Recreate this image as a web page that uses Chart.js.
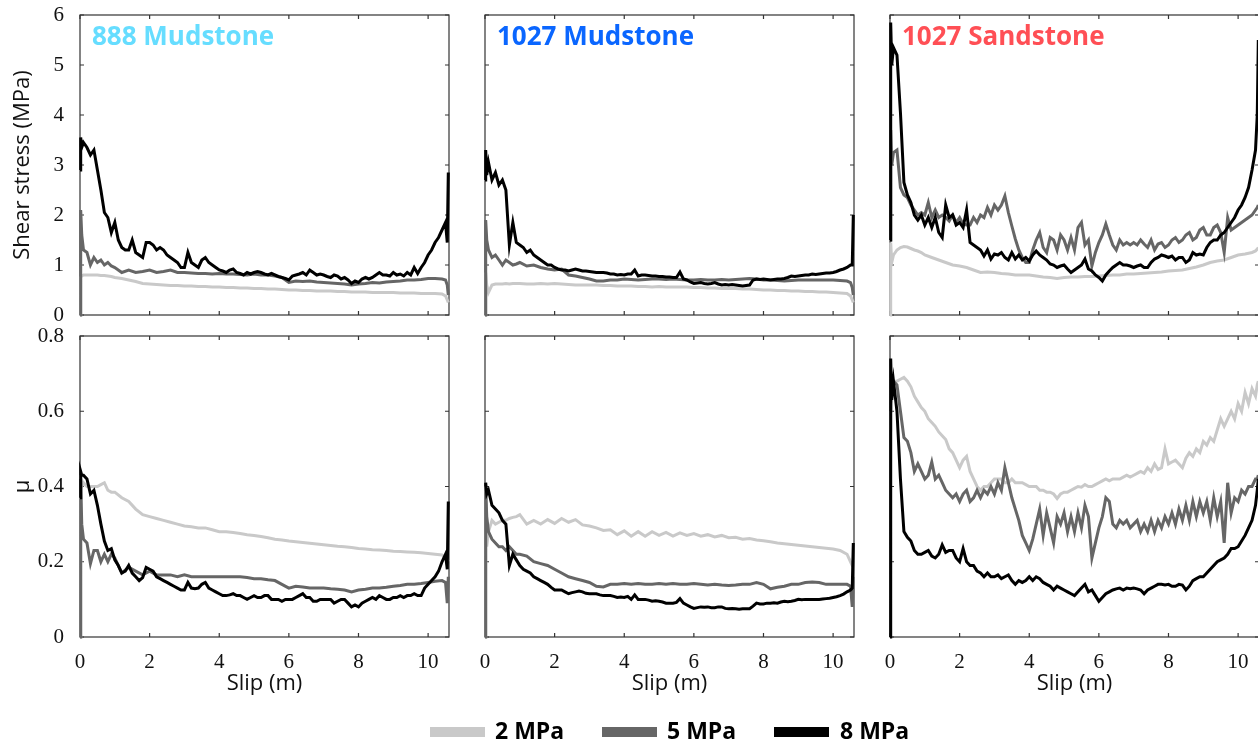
<!DOCTYPE html>
<html>
<head>
<meta charset="utf-8">
<script src="https://cdn.jsdelivr.net/npm/chart.js@4.4.1/dist/chart.umd.min.js"></script>
<style>
  html, body { margin: 0; padding: 0; background: #fff; }
  #fig { position: relative; width: 1258px; height: 747px; overflow: hidden; }
  #fig canvas { position: absolute; left: 0; top: 0; }
</style>
</head>
<body>
<div id="fig">
  <canvas id="p1" width="1262" height="747"></canvas>
  <canvas id="p2" width="1262" height="747"></canvas>
  <canvas id="p3" width="1262" height="747"></canvas>
  <canvas id="p4" width="1262" height="747"></canvas>
  <canvas id="p5" width="1262" height="747"></canvas>
  <canvas id="p6" width="1262" height="747"></canvas>
</div>

<script>
// slip positions (m) - fine grid for the noisy curves, coarse grid for the smooth ones
const SLIP_FINE = [0, 0.02, 0.05,
  0.1, 0.2, 0.3, 0.4, 0.5, 0.6, 0.7, 0.8, 0.9, 1.0,
  1.1, 1.2, 1.3, 1.4, 1.5, 1.6, 1.7, 1.8, 1.9, 2.0,
  2.1, 2.2, 2.3, 2.4, 2.5, 2.6, 2.7, 2.8, 2.9, 3.0,
  3.1, 3.2, 3.3, 3.4, 3.5, 3.6, 3.7, 3.8, 3.9, 4.0,
  4.1, 4.2, 4.3, 4.4, 4.5, 4.6, 4.7, 4.8, 4.9, 5.0,
  5.1, 5.2, 5.3, 5.4, 5.5, 5.6, 5.7, 5.8, 5.9, 6.0,
  6.1, 6.2, 6.3, 6.4, 6.5, 6.6, 6.7, 6.8, 6.9, 7.0,
  7.1, 7.2, 7.3, 7.4, 7.5, 7.6, 7.7, 7.8, 7.9, 8.0,
  8.1, 8.2, 8.3, 8.4, 8.5, 8.6, 8.7, 8.8, 8.9, 9.0,
  9.1, 9.2, 9.3, 9.4, 9.5, 9.6, 9.7, 9.8, 9.9, 10.0,
  10.1, 10.2, 10.3, 10.4, 10.5,
  10.55, 10.58];

const SLIP_COARSE = [0, 0.02, 0.05,
  0.1, 0.2, 0.3, 0.4, 0.5, 0.6, 0.7, 0.8, 0.9, 1.0,
  1.2, 1.4, 1.6, 1.8, 2.0, 2.2, 2.4, 2.6, 2.8, 3.0,
  3.2, 3.4, 3.6, 3.8, 4.0, 4.2, 4.4, 4.6, 4.8, 5.0,
  5.2, 5.4, 5.6, 5.8, 6.0, 6.2, 6.4, 6.6, 6.8, 7.0,
  7.2, 7.4, 7.6, 7.8, 8.0, 8.2, 8.4, 8.6, 8.8, 9.0,
  9.2, 9.4, 9.6, 9.8, 10.0, 10.2, 10.4,
  10.5, 10.55, 10.58];

const SLIP_TICKS = [0, 2, 4, 6, 8, 10];
const STRESS_TICKS = [0, 1, 2, 3, 4, 5, 6];
const MU_TICKS = [0, 0.2, 0.4, 0.6, 0.8];

const PANEL_TITLES = ['888 Mudstone', '1027 Mudstone', '1027 Sandstone'];
const TITLE_COLORS = ['#66ddff', '#0a66ff', '#ff4f55'];
const PRESSURES = ['2 MPa', '5 MPa', '8 MPa'];
const LINE_COLORS = ['#c9c9c9', '#666666', '#000000'];

// ---- shear stress (MPa) ----
const TAU_888_2 = [0, 0.75, 0.78,
  0.8, 0.8, 0.8, 0.8, 0.8, 0.79, 0.79, 0.78, 0.77, 0.75,
  0.73, 0.7, 0.67, 0.63, 0.62, 0.61, 0.6, 0.59, 0.59, 0.58,
  0.58, 0.57, 0.57, 0.56, 0.56, 0.55, 0.55, 0.54, 0.54, 0.53,
  0.53, 0.52, 0.52, 0.51, 0.5, 0.5, 0.49, 0.49, 0.48, 0.48,
  0.48, 0.47, 0.47, 0.46, 0.46, 0.46, 0.45, 0.45, 0.45, 0.45,
  0.44, 0.44, 0.44, 0.43, 0.43, 0.43, 0.42,
  0.38, 0.3, 0.25];
const TAU_888_5 = [0, 2.1, 1.6,
  1.3, 1.25, 1.0, 1.15, 1.05, 1.1, 1.0, 1.05, 0.98, 0.95,
  0.85, 0.9, 0.85, 0.87, 0.9, 0.85, 0.87, 0.9, 0.85, 0.85,
  0.84, 0.83, 0.83, 0.82, 0.83, 0.82, 0.82, 0.81, 0.8, 0.82,
  0.8, 0.8, 0.78, 0.75, 0.65, 0.68, 0.67, 0.68, 0.66, 0.65,
  0.64, 0.63, 0.62, 0.6, 0.62, 0.63, 0.65, 0.64, 0.66, 0.67,
  0.68, 0.7, 0.7, 0.71, 0.73, 0.73, 0.72,
  0.7, 0.6, 0.4];
const TAU_888_8 = [2.9, 3.55, 3.35,
  3.45, 3.35, 3.2, 3.3, 2.9, 2.5, 2.05, 1.95, 1.65, 1.85,
  1.5, 1.35, 1.3, 1.3, 1.5, 1.25, 1.2, 1.15, 1.45, 1.45,
  1.4, 1.3, 1.35, 1.3, 1.2, 1.15, 1.1, 1.05, 0.95, 0.95,
  1.25, 1.05, 1.0, 0.95, 1.1, 1.15, 1.05, 1.0, 0.95, 0.9,
  0.88, 0.85, 0.9, 0.92, 0.85, 0.83, 0.8, 0.85, 0.82, 0.85,
  0.87, 0.85, 0.82, 0.8, 0.83, 0.8, 0.77, 0.75, 0.73, 0.7,
  0.78, 0.8, 0.82, 0.85, 0.8, 0.9, 0.85, 0.8, 0.82, 0.8,
  0.77, 0.75, 0.8, 0.78, 0.72, 0.75, 0.7, 0.63, 0.68, 0.65,
  0.72, 0.75, 0.72, 0.75, 0.8, 0.85, 0.8, 0.8, 0.78, 0.85,
  0.8, 0.82, 0.78, 0.85, 0.8, 0.95, 0.83, 0.95, 1.05, 1.2,
  1.3, 1.45, 1.55, 1.7, 1.85,
  1.45, 2.85];

const TAU_1027M_2 = [0, 0.85, 0.6,
  0.45, 0.6, 0.62, 0.62, 0.62, 0.63, 0.62, 0.63, 0.63, 0.63,
  0.62, 0.62, 0.63, 0.62, 0.63, 0.62, 0.61, 0.6, 0.6, 0.6,
  0.6, 0.59, 0.59, 0.58, 0.58, 0.58, 0.57, 0.57, 0.56, 0.57,
  0.56, 0.56, 0.56, 0.56, 0.55, 0.55, 0.54, 0.54, 0.53, 0.53,
  0.53, 0.52, 0.52, 0.51, 0.5, 0.5, 0.49, 0.49, 0.48, 0.48,
  0.47, 0.47, 0.46, 0.46, 0.45, 0.44, 0.43,
  0.38, 0.3, 0.25];
const TAU_1027M_5 = [0, 1.9, 1.5,
  1.3, 1.15, 1.2, 1.1, 1.0, 1.1, 1.05, 1.0, 1.02, 1.05,
  0.98, 1.0, 0.95, 0.92, 0.9, 0.92, 0.8, 0.78, 0.75, 0.72,
  0.68, 0.68, 0.7, 0.7, 0.72, 0.71, 0.7, 0.71, 0.72, 0.72,
  0.71, 0.72, 0.71, 0.7, 0.7, 0.71, 0.7, 0.7, 0.71, 0.7,
  0.71, 0.72, 0.73, 0.72, 0.7, 0.7, 0.69, 0.68, 0.69, 0.7,
  0.7, 0.7, 0.7, 0.7, 0.7, 0.69, 0.68,
  0.65, 0.55, 0.4];
const TAU_1027M_8 = [2.7, 3.3, 2.8,
  3.05, 2.7, 2.85, 2.6, 2.7, 2.5, 1.4, 1.85, 1.45, 1.4,
  1.35, 1.25, 1.3, 1.2, 1.15, 1.1, 1.05, 1.0, 1.0, 0.95,
  0.92, 0.9, 0.9, 0.88, 0.9, 0.92, 0.9, 0.88, 0.88, 0.87,
  0.86, 0.85, 0.85, 0.85, 0.84, 0.82, 0.82, 0.8, 0.81, 0.8,
  0.82, 0.82, 0.9, 0.78, 0.8, 0.8, 0.79, 0.78, 0.78, 0.77,
  0.77, 0.76, 0.76, 0.75, 0.75, 0.86, 0.72, 0.7, 0.66, 0.63,
  0.64, 0.65, 0.63, 0.62, 0.63, 0.65, 0.62, 0.6, 0.61, 0.6,
  0.61, 0.6, 0.59, 0.58, 0.59, 0.6, 0.7, 0.72, 0.71, 0.72,
  0.71, 0.7, 0.71, 0.72, 0.72, 0.73, 0.75, 0.78, 0.77, 0.78,
  0.79, 0.8, 0.8, 0.82, 0.81, 0.82, 0.83, 0.84, 0.84, 0.85,
  0.87, 0.9, 0.92, 0.95, 1.0,
  1.0, 2.0];

const TAU_1027S_2 = [0, 1.45, 1.05,
  1.2, 1.3, 1.35, 1.37, 1.36, 1.33, 1.3, 1.28, 1.25, 1.2,
  1.15, 1.1, 1.05, 1.0, 0.98, 0.95, 0.9, 0.85, 0.86, 0.85,
  0.83, 0.82, 0.8, 0.8, 0.8, 0.78, 0.76, 0.75, 0.73, 0.75,
  0.76, 0.76, 0.77, 0.77, 0.78, 0.79, 0.8, 0.8, 0.82, 0.82,
  0.83, 0.84, 0.85, 0.86, 0.88, 0.89, 0.9, 0.93, 0.96, 1.0,
  1.05, 1.08, 1.1, 1.15, 1.2, 1.22, 1.25,
  1.28, 1.32, 1.35];
const TAU_1027S_5 = [1.5, 3.7, 3.0,
  3.25, 3.3, 2.55, 2.4, 2.35, 2.2, 2.1, 2.0, 2.05, 2.0,
  2.25, 1.95, 2.1, 1.95, 2.0, 1.95, 1.88, 2.0, 1.85, 1.95,
  1.82, 1.8, 1.8, 1.95, 1.85, 2.0, 1.95, 2.15, 2.0, 2.2,
  2.1, 2.2, 2.38, 2.05, 1.78, 1.52, 1.3, 1.15, 1.05, 1.05,
  1.3, 1.5, 1.65, 1.35, 1.25, 1.55, 1.5, 1.3, 1.6, 1.5,
  1.3, 1.55, 1.3, 1.75, 1.85, 1.4, 1.5, 0.98, 1.25, 1.45,
  1.6, 1.82, 1.6, 1.4, 1.3, 1.5, 1.4, 1.45, 1.4, 1.45,
  1.4, 1.5, 1.42, 1.35, 1.5, 1.3, 1.42, 1.45, 1.35, 1.4,
  1.5, 1.55, 1.45, 1.5, 1.6, 1.65, 1.5, 1.55, 1.7, 1.75,
  1.6, 1.6, 1.75, 1.8, 1.65, 1.25, 1.95, 1.7, 1.75, 1.8,
  1.85, 1.9, 1.95, 2.0, 2.1,
  2.15, 2.2];
const TAU_1027S_8 = [1.5, 5.85, 5.0,
  5.35, 5.2, 4.05, 2.65, 2.4, 2.25, 2.0, 1.9, 2.0, 1.8,
  1.95, 1.75, 1.95, 1.65, 1.55, 2.2, 1.95, 2.0, 1.8, 1.85,
  1.75, 2.1, 1.45, 1.4, 1.35, 1.3, 1.18, 1.3, 1.12, 1.22,
  1.2, 1.25, 1.15, 1.1, 1.25, 1.12, 1.2, 1.1, 1.15, 1.08,
  1.2, 1.28, 1.2, 1.15, 1.1, 1.02, 1.0, 0.95, 0.98, 1.0,
  0.92, 0.85, 0.9, 0.95, 1.0, 1.12, 0.92, 0.88, 0.8, 0.75,
  0.68, 0.8, 0.88, 0.95, 1.0, 1.05, 1.0, 1.0, 0.98, 0.95,
  0.98, 1.0, 0.95, 0.95, 1.05, 1.12, 1.15, 1.2, 1.18, 1.15,
  1.18, 1.1, 1.15, 1.15, 1.05, 1.1, 1.25, 1.2, 1.22, 1.2,
  1.35, 1.45, 1.5, 1.5, 1.6, 1.65, 1.75, 1.85, 1.95, 2.1,
  2.2, 2.35, 2.55, 2.9, 3.3,
  4.0, 5.5];

// ---- friction coefficient mu ----
const MU_888_2 = [0, 0.43, 0.4,
  0.41, 0.4, 0.4, 0.4, 0.4, 0.405, 0.41, 0.39, 0.385, 0.385,
  0.37, 0.36, 0.34, 0.325, 0.32, 0.315, 0.31, 0.305, 0.3, 0.295,
  0.293, 0.29, 0.29, 0.285, 0.28, 0.28, 0.278, 0.275, 0.272, 0.27,
  0.267, 0.264, 0.26, 0.258, 0.255, 0.253, 0.251, 0.249, 0.247, 0.245,
  0.243, 0.241, 0.24, 0.238, 0.235, 0.234, 0.232, 0.231, 0.23, 0.228,
  0.227, 0.226, 0.225, 0.224, 0.222, 0.22, 0.218,
  0.21, 0.205, 0.2];
const MU_888_5 = [0, 0.42, 0.3,
  0.26, 0.25, 0.195, 0.23, 0.23, 0.2, 0.22, 0.2, 0.22, 0.21,
  0.17, 0.185, 0.175, 0.165, 0.175, 0.165, 0.165, 0.165, 0.16, 0.165,
  0.16, 0.16, 0.16, 0.16, 0.16, 0.16, 0.16, 0.16, 0.158, 0.155,
  0.155, 0.152, 0.15, 0.14, 0.13, 0.135, 0.133, 0.13, 0.13, 0.13,
  0.128, 0.127, 0.125, 0.12, 0.125, 0.127, 0.13, 0.13, 0.132, 0.135,
  0.137, 0.14, 0.14, 0.142, 0.145, 0.148, 0.15,
  0.145, 0.09, 0.16];
const MU_888_8 = [0.37, 0.44, 0.43,
  0.43, 0.42, 0.38, 0.39, 0.35, 0.3, 0.255, 0.23, 0.235, 0.205,
  0.19, 0.17, 0.175, 0.19, 0.17, 0.16, 0.15, 0.158, 0.185, 0.18,
  0.175, 0.16, 0.155, 0.15, 0.145, 0.14, 0.135, 0.13, 0.125, 0.125,
  0.145, 0.13, 0.128, 0.13, 0.14, 0.145, 0.13, 0.125, 0.12, 0.115,
  0.11, 0.11, 0.112, 0.115, 0.11, 0.11, 0.105, 0.1, 0.105, 0.11,
  0.105, 0.105, 0.11, 0.11, 0.1, 0.1, 0.1, 0.095, 0.1, 0.1,
  0.1, 0.105, 0.11, 0.115, 0.105, 0.105, 0.095, 0.095, 0.1, 0.1,
  0.1, 0.1, 0.09, 0.095, 0.1, 0.1, 0.09, 0.08, 0.085, 0.08,
  0.09, 0.095, 0.1, 0.105, 0.1, 0.11, 0.105, 0.1, 0.1, 0.105,
  0.105, 0.11, 0.105, 0.11, 0.11, 0.115, 0.11, 0.11, 0.13, 0.14,
  0.15, 0.16, 0.175, 0.2, 0.22,
  0.18, 0.36];

const MU_1027M_2 = [0, 0.4, 0.24,
  0.28, 0.31, 0.3, 0.305, 0.31, 0.31, 0.315, 0.318, 0.32, 0.325,
  0.3, 0.31, 0.3, 0.312, 0.302, 0.315, 0.305, 0.312, 0.298, 0.295,
  0.29, 0.283, 0.285, 0.272, 0.282, 0.268, 0.28, 0.268, 0.28, 0.27,
  0.278, 0.268, 0.277, 0.27, 0.275, 0.268, 0.272, 0.266, 0.27, 0.264,
  0.265, 0.26, 0.262, 0.258, 0.256, 0.253, 0.25, 0.248, 0.246, 0.244,
  0.242, 0.24, 0.238, 0.236, 0.234, 0.23, 0.22,
  0.2, 0.19, 0.19];
const MU_1027M_5 = [0, 0.4, 0.32,
  0.28, 0.26, 0.25, 0.24, 0.24, 0.23, 0.24, 0.23, 0.22, 0.22,
  0.215, 0.2, 0.195, 0.19, 0.18, 0.17, 0.16, 0.155, 0.15, 0.145,
  0.135, 0.133, 0.14, 0.14, 0.142, 0.14, 0.142, 0.14, 0.14, 0.142,
  0.14, 0.142, 0.14, 0.14, 0.142, 0.14, 0.138, 0.14, 0.138, 0.137,
  0.138, 0.14, 0.14, 0.145, 0.14, 0.128, 0.132, 0.135, 0.14, 0.14,
  0.145, 0.146, 0.145, 0.14, 0.14, 0.14, 0.14,
  0.135, 0.08, 0.16];
const MU_1027M_8 = [0.4, 0.41, 0.38,
  0.39, 0.35, 0.34, 0.33, 0.31, 0.3, 0.19, 0.22, 0.205, 0.19,
  0.18, 0.175, 0.17, 0.16, 0.155, 0.15, 0.145, 0.14, 0.132, 0.125,
  0.125, 0.125, 0.12, 0.115, 0.118, 0.12, 0.122, 0.12, 0.116, 0.115,
  0.115, 0.115, 0.112, 0.11, 0.11, 0.11, 0.108, 0.105, 0.106, 0.105,
  0.108, 0.1, 0.112, 0.1, 0.1, 0.1, 0.098, 0.095, 0.096, 0.095,
  0.093, 0.09, 0.09, 0.09, 0.092, 0.102, 0.09, 0.085, 0.08, 0.076,
  0.078, 0.08, 0.079, 0.08, 0.078, 0.078, 0.08, 0.08, 0.076, 0.075,
  0.076, 0.075, 0.074, 0.075, 0.075, 0.075, 0.082, 0.09, 0.088, 0.088,
  0.09, 0.09, 0.091, 0.09, 0.093, 0.095, 0.094, 0.095, 0.097, 0.1,
  0.099, 0.1, 0.1, 0.1, 0.1, 0.1, 0.101, 0.102, 0.103, 0.105,
  0.107, 0.11, 0.114, 0.12, 0.125,
  0.13, 0.25];

const MU_1027S_2 = [0.55, 0.6, 0.65,
  0.68, 0.68, 0.685, 0.69, 0.68, 0.665, 0.64, 0.625, 0.61, 0.6,
  0.58, 0.57, 0.56, 0.545, 0.535, 0.525, 0.5, 0.49, 0.47, 0.45,
  0.47, 0.48, 0.44, 0.42, 0.4, 0.39, 0.4, 0.4, 0.41, 0.42,
  0.42, 0.42, 0.41, 0.41, 0.42, 0.41, 0.41, 0.41, 0.405, 0.4,
  0.4, 0.4, 0.39, 0.39, 0.385, 0.385, 0.38, 0.368, 0.38, 0.385,
  0.385, 0.39, 0.395, 0.4, 0.398, 0.405, 0.4, 0.4, 0.405, 0.41,
  0.415, 0.42, 0.415, 0.42, 0.42, 0.42, 0.425, 0.43, 0.425, 0.43,
  0.435, 0.44, 0.435, 0.45, 0.44, 0.46, 0.445, 0.45, 0.5, 0.46,
  0.465, 0.47, 0.46, 0.45, 0.475, 0.49, 0.48, 0.5, 0.49, 0.52,
  0.51, 0.53, 0.52, 0.55, 0.58, 0.56, 0.58, 0.6, 0.58, 0.62,
  0.6, 0.65, 0.62, 0.66, 0.64,
  0.67, 0.68];
const MU_1027S_5 = [0.6, 0.62, 0.66,
  0.68, 0.67, 0.6, 0.53, 0.52, 0.49, 0.44, 0.46, 0.44, 0.42,
  0.43, 0.465, 0.42, 0.43, 0.41, 0.39, 0.38, 0.37, 0.38, 0.36,
  0.38, 0.39, 0.36, 0.37, 0.39, 0.37, 0.39, 0.38, 0.4, 0.38,
  0.41, 0.39, 0.45, 0.41, 0.37, 0.34, 0.31, 0.27, 0.25, 0.23,
  0.26, 0.3, 0.34, 0.27, 0.33, 0.29, 0.25, 0.32, 0.3, 0.33,
  0.28, 0.32, 0.28, 0.33, 0.29, 0.35, 0.32, 0.21, 0.25, 0.29,
  0.32, 0.37, 0.36, 0.3, 0.29, 0.31, 0.3, 0.31, 0.29, 0.3,
  0.31, 0.28, 0.3, 0.28, 0.31, 0.28, 0.31, 0.29, 0.32, 0.3,
  0.33, 0.3, 0.34, 0.31, 0.35, 0.31, 0.36, 0.32, 0.36, 0.33,
  0.36, 0.31, 0.37, 0.32, 0.36, 0.25, 0.41, 0.33, 0.37, 0.36,
  0.39, 0.38, 0.4, 0.4, 0.42,
  0.42, 0.43];
const MU_1027S_8 = [0, 0.74, 0.63,
  0.68, 0.6, 0.42, 0.28, 0.265, 0.255, 0.23, 0.22, 0.22, 0.225,
  0.23, 0.215, 0.21, 0.22, 0.245, 0.225, 0.23, 0.23, 0.21, 0.2,
  0.235, 0.2, 0.19, 0.19, 0.175, 0.17, 0.16, 0.17, 0.16, 0.16,
  0.165, 0.155, 0.16, 0.165, 0.15, 0.14, 0.15, 0.145, 0.15, 0.16,
  0.15, 0.16, 0.155, 0.145, 0.14, 0.135, 0.125, 0.135, 0.13, 0.125,
  0.12, 0.115, 0.11, 0.12, 0.13, 0.14, 0.12, 0.125, 0.11, 0.095,
  0.105, 0.115, 0.12, 0.125, 0.128, 0.13, 0.125, 0.13, 0.128, 0.13,
  0.128, 0.125, 0.115, 0.125, 0.13, 0.135, 0.14, 0.14, 0.138, 0.14,
  0.135, 0.135, 0.14, 0.138, 0.125, 0.135, 0.15, 0.155, 0.16, 0.16,
  0.17, 0.18, 0.19, 0.2, 0.205, 0.21, 0.22, 0.235, 0.235, 0.24,
  0.255, 0.27, 0.29, 0.31, 0.35,
  0.39, 0.42];

// panel boxes on the page (plot area edges, px)
const COL_LEFT = [80, 485, 890];
const COL_RIGHT = [449, 854, 1259];
const ROW_TOP = [15, 336];
const ROW_BOTTOM = [315, 637];
const CANVAS_W = 1262, CANVAS_H = 747;

// legend placement (page px)
const LEGEND_SWATCH_X = [430, 602, 774];
const LEGEND_TEXT_X = [495, 667, 840];
const LEGEND_Y = 732;

const SANS = '"Open Sans", "DejaVu Sans", sans-serif';
const SERIF = 'Liberation Serif';

// frame with inward tick marks on all four sides
const framePlugin = {
  id: 'frame',
  beforeDatasetsDraw(chart) {
    const { ctx, chartArea: a, scales: { x, y } } = chart;
    ctx.save();
    ctx.strokeStyle = '#333';
    ctx.lineWidth = 1.2;
    ctx.strokeRect(a.left, a.top, a.right - a.left, a.bottom - a.top);
    ctx.beginPath();
    x.ticks.forEach(t => {
      const p = x.getPixelForValue(t.value);
      ctx.moveTo(p, a.bottom); ctx.lineTo(p, a.bottom - 4);
      ctx.moveTo(p, a.top); ctx.lineTo(p, a.top + 4);
    });
    y.ticks.forEach(t => {
      const p = y.getPixelForValue(t.value);
      ctx.moveTo(a.left, p); ctx.lineTo(a.left + 4, p);
      ctx.moveTo(a.right, p); ctx.lineTo(a.right - 4, p);
    });
    ctx.stroke();
    ctx.restore();
  }
};

function titlePlugin(text, color) {
  return {
    id: 'panelTitle',
    afterDatasetsDraw(chart) {
      if (!text) return;
      const { ctx, chartArea: a } = chart;
      ctx.save();
      ctx.font = 'bold 26px ' + SANS;
      ctx.fillStyle = color;
      ctx.textBaseline = 'alphabetic';
      ctx.fillText(text, a.left + 12, a.top + 30);
      ctx.restore();
    }
  };
}

// shared legend under the figure, drawn once on the middle bottom panel
const legendPlugin = {
  id: 'pressureLegend',
  afterDraw(chart) {
    const ctx = chart.ctx;
    ctx.save();
    ctx.font = 'bold 23px ' + SANS;
    ctx.textBaseline = 'middle';
    PRESSURES.forEach((label, i) => {
      ctx.fillStyle = LINE_COLORS[i];
      ctx.fillRect(LEGEND_SWATCH_X[i], LEGEND_Y - 5, 55, 10);
      ctx.fillStyle = '#000';
      ctx.fillText(label, LEGEND_TEXT_X[i], LEGEND_Y);
    });
    ctx.restore();
  }
};

function makePanel(id, row, col, xs, series) {
  const yWidth = col === 0 ? 80 : 30;
  const xHeight = row === 1 ? 60 : 10;
  const isMu = row === 1;
  const plugins = [framePlugin, titlePlugin(row === 0 ? PANEL_TITLES[col] : '', TITLE_COLORS[col])];
  if (row === 1 && col === 1) plugins.push(legendPlugin);

  new Chart(document.getElementById(id), {
    type: 'line',
    data: {
      datasets: series.map((ys, i) => ({
        label: PRESSURES[i],
        data: xs[i].map((x, k) => ({ x: x, y: ys[k] })),
        borderColor: LINE_COLORS[i],
        borderWidth: 3,
        pointRadius: 0,
        tension: 0,
        fill: false,
        clip: false,
        order: 3 - i
      }))
    },
    options: {
      responsive: false,
      animation: false,
      devicePixelRatio: 1,
      events: [],
      layout: {
        padding: {
          left: COL_LEFT[col] - yWidth,
          right: CANVAS_W - COL_RIGHT[col],
          top: ROW_TOP[row],
          bottom: CANVAS_H - ROW_BOTTOM[row] - xHeight
        }
      },
      plugins: { legend: { display: false }, tooltip: { enabled: false } },
      scales: {
        x: {
          type: 'linear',
          min: 0,
          max: 10.6,
          afterBuildTicks: s => { s.ticks = SLIP_TICKS.map(v => ({ value: v })); },
          grid: { display: false },
          border: { display: false },
          ticks: {
            display: row === 1,
            padding: 5,
            color: '#111',
            font: { family: SERIF, size: 21 }
          },
          title: {
            display: row === 1,
            text: 'Slip (m)',
            color: '#111',
            padding: 0,
            font: { family: SANS, size: 22 }
          },
          afterFit: s => { s.height = xHeight; s.paddingLeft = 0; s.paddingRight = 0; }
        },
        y: {
          type: 'linear',
          min: 0,
          max: isMu ? 0.8 : 6,
          afterBuildTicks: s => { s.ticks = (isMu ? MU_TICKS : STRESS_TICKS).map(v => ({ value: v })); },
          grid: { display: false },
          border: { display: false },
          ticks: {
            display: col === 0,
            padding: 8,
            color: '#111',
            font: { family: SERIF, size: 21 },
            callback: v => String(+Number(v).toFixed(1))
          },
          title: {
            display: col === 0,
            text: isMu ? 'μ' : 'Shear stress (MPa)',
            color: '#111',
            padding: { top: 10, bottom: 0 },
            font: { family: SANS, size: 22 }
          },
          afterFit: s => { s.width = yWidth; s.paddingTop = 0; s.paddingBottom = 0; }
        }
      }
    },
    plugins: plugins
  });
}

makePanel('p1', 0, 0, [SLIP_COARSE, SLIP_COARSE, SLIP_FINE], [TAU_888_2, TAU_888_5, TAU_888_8]);
makePanel('p2', 0, 1, [SLIP_COARSE, SLIP_COARSE, SLIP_FINE], [TAU_1027M_2, TAU_1027M_5, TAU_1027M_8]);
makePanel('p3', 0, 2, [SLIP_COARSE, SLIP_FINE, SLIP_FINE], [TAU_1027S_2, TAU_1027S_5, TAU_1027S_8]);
makePanel('p4', 1, 0, [SLIP_COARSE, SLIP_COARSE, SLIP_FINE], [MU_888_2, MU_888_5, MU_888_8]);
makePanel('p5', 1, 1, [SLIP_COARSE, SLIP_COARSE, SLIP_FINE], [MU_1027M_2, MU_1027M_5, MU_1027M_8]);
makePanel('p6', 1, 2, [SLIP_FINE, SLIP_FINE, SLIP_FINE], [MU_1027S_2, MU_1027S_5, MU_1027S_8]);
</script>
</body>
</html>
